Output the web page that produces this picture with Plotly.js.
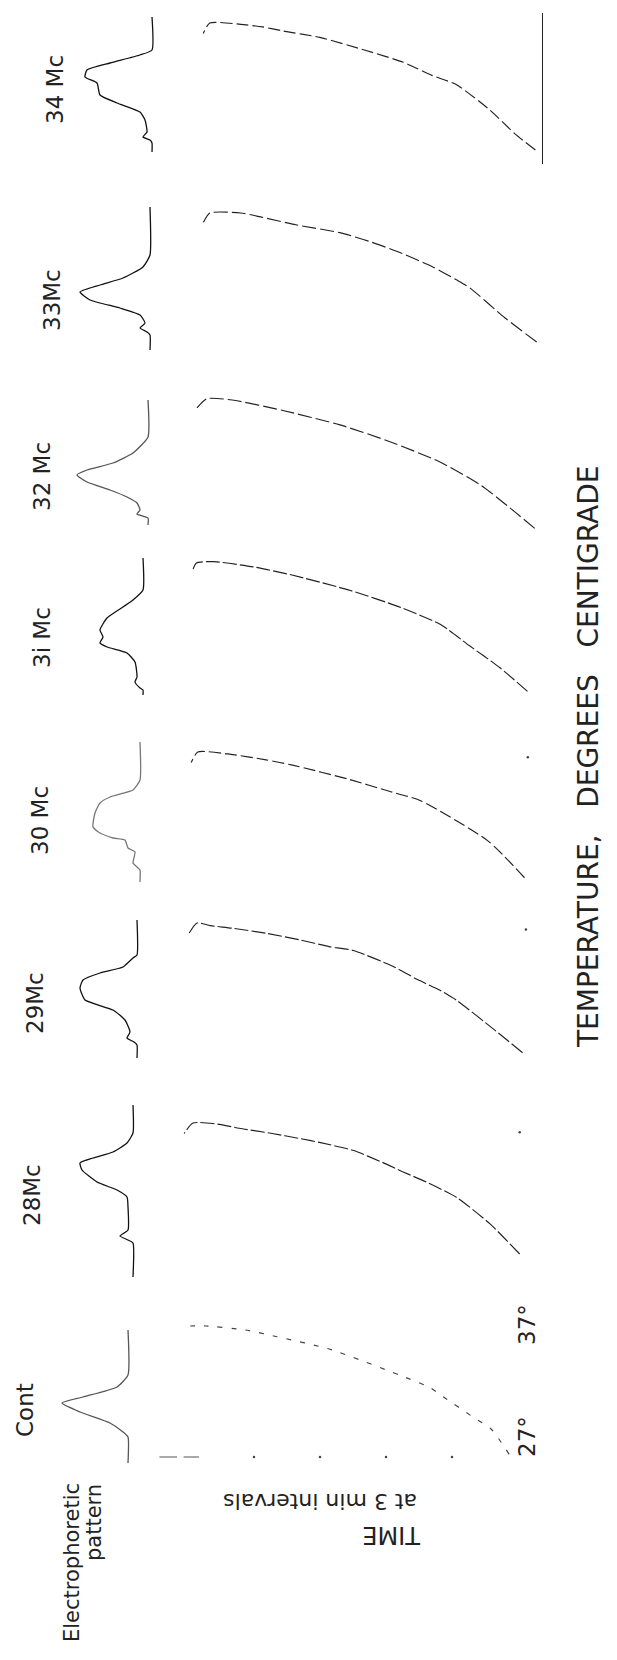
<!DOCTYPE html>
<html>
<head>
<meta charset="utf-8">
<script src="https://cdn.plot.ly/plotly-3.0.1.min.js"></script>
<style>html,body{margin:0;padding:0;background:#fff;}#chart{width:617px;height:1660px;}</style>
</head>
<body>
<div id="chart"></div>
<script>
// ---------- DATA ----------
const panelNames = ["Cont", "28Mc", "29Mc", "30 Mc", "3i Mc", "32 Mc", "33Mc", "34 Mc"];

// heating curves: time (min) vs temperature (°C)
const contTime = [0.4, 1.2, 2.0, 3.4, 4.0, 5.0, 8.5, 11.0, 12.4, 14.2, 14.9];
const contTemp = [27.2, 29.1, 30.0, 31.6, 32.3, 33.0, 35.2, 36.2, 36.7, 37.0, 37.0];
const mc28Time = [0.15, 1.5, 3.0, 4.4, 5.5, 6.4, 7.7, 9.2, 10.1, 11.4, 12.9, 13.8, 15.0, 15.4];
const mc28Temp = [27.0, 29.3, 31.3, 32.5, 33.3, 34.0, 34.9, 35.5, 35.8, 36.2, 36.6, 36.9, 37.0, 36.2];
const mc29Time = [0.2, 1.45, 3.2, 4.0, 5.0, 6.1, 7.9, 9.0, 10.3, 11.8, 13.4, 14.4, 15.0, 15.4];
const mc29Temp = [27.1, 28.8, 31.1, 31.9, 32.7, 33.7, 34.9, 35.2, 35.7, 36.2, 36.6, 36.8, 37.0, 36.1];
const mc30Time = [0.25, 1.9, 5.0, 6.4, 8.2, 10.8, 12.0, 13.5, 15.1, 15.4];
const mc30Temp = [27.4, 30.2, 33.3, 34.0, 34.9, 36.0, 36.4, 36.8, 37.0, 36.2];
const mc31Time = [0.25, 1.5, 2.9, 4.2, 6.0, 8.3, 11.0, 12.7, 14.5, 15.3, 15.5];
const mc31Temp = [27.2, 29.0, 30.7, 32.3, 33.6, 34.9, 36.1, 36.7, 37.1, 37.0, 36.3];
const mc32Time = [0.15, 1.3, 2.6, 4.5, 6.7, 9.0, 11.6, 13.9, 15.05, 15.5];
const mc32Temp = [27.2, 28.8, 30.5, 32.3, 33.8, 35.1, 36.2, 37.0, 37.1, 36.4];
const mc33Time = [0.15, 1.6, 3.2, 3.8, 4.9, 6.4, 7.7, 9.1, 11.1, 12.7, 13.6, 15.0, 15.3];
const mc33Temp = [27.15, 29.0, 31.3, 31.9, 32.9, 34.0, 34.8, 35.5, 36.1, 36.7, 37.0, 37.0, 36.3];
const mc34Time = [0.3, 1.2, 2.4, 3.9, 5.0, 6.3, 8.0, 10.1, 11.8, 12.7, 13.7, 15.1, 15.4];
const mc34Temp = [27.3, 28.5, 30.4, 32.3, 33.0, 34.0, 34.9, 35.9, 36.4, 36.7, 36.9, 37.0, 36.2];

// 3-minute marks on the 27° line of the control
const contTickTimes = [3, 6, 9, 12];
const contTickTemp = [27, 27, 27, 27];
const contDashTimes = [14.5, 15.2, null, 15.5, 16.3];
const contDashTemp = [27, 27, null, 27, 27];
// faint zero-time specks (panels 28, 29, 30 Mc)
const zeroMarkPanels = [1, 2, 3];
const zeroMarkTime = [0.15, 0.05, 0.1];
const zeroMarkTemp = [36.3, 36.5, 36.6];

// electrophoretic patterns: position along baseline vs deflection
const contPatPos = [0, 45, 57, 67, 73, 82, 93, 102, 107, 133];
const contPatHt  = [0, 0, 11, 45, 66, 48, 18, 5, 0, 0];
const mc28PatPos = [0, 28, 38, 47, 53, 58, 65, 77, 85, 92, 102, 125, 131, 135, 138, 172];
const mc28PatHt  = [0, 0, 6, 20, 40, 53, 51, 36, 16, 6, 5, 5, 13, 5, 0, 0];
const mc29PatPos = [0, 35, 38, 47, 53, 60, 68, 80, 90, 100, 112, 118, 122, 125, 138];
const mc29PatHt  = [0, 0, 4, 14, 37, 54, 57, 52, 24, 12, 7, 10, 3, 0, 0];
const mc30PatPos = [0, 38, 48, 55, 61, 71, 85, 91, 96, 98, 106, 110, 121, 125, 128, 140];
const mc30PatHt  = [0, 0, 7, 30, 40, 45, 47, 40, 27, 15, 12, 5, 7, 3, 0, 0];
const mc31PatPos = [0, 32, 42, 49, 60, 72, 79, 85, 89, 95, 104, 119, 124, 130, 132, 137];
const mc31PatHt  = [0, 0, 10, 20, 36, 43, 40, 43, 36, 16, 8, 6, 8, 3, 0, 0];
const mc32PatPos = [0, 37, 53, 63, 70, 75, 82, 90, 97, 103, 110, 114, 118, 125];
const mc32PatHt  = [0, 0, 15, 35, 61, 71, 61, 38, 21, 11, 8, 11, 0, 0];
const mc33PatPos = [0, 48, 60, 71, 78, 85, 93, 101, 108, 116, 121, 125, 128, 143];
const mc33PatHt  = [0, 0, 7, 27, 50, 70, 60, 30, 10, 5, 10, 3, 0, 0];
const mc34PatPos = [0, 33, 38, 46, 53, 60, 66, 78, 86, 95, 103, 115, 120, 123, 126, 135];
const mc34PatHt  = [0, 0, 12, 42, 65, 67, 55, 52, 35, 12, 7, 5, 9, 2, 0, 0];

const curveTimes = [contTime, mc28Time, mc29Time, mc30Time, mc31Time, mc32Time, mc33Time, mc34Time];
const curveTemps = [contTemp, mc28Temp, mc29Temp, mc30Temp, mc31Temp, mc32Temp, mc33Temp, mc34Temp];
const patPos = [contPatPos, mc28PatPos, mc29PatPos, mc30PatPos, mc31PatPos, mc32PatPos, mc33PatPos, mc34PatPos];
const patHt = [contPatHt, mc28PatHt, mc29PatHt, mc30PatHt, mc31PatHt, mc32PatHt, mc33PatHt, mc34PatHt];

// ---------- LAYOUT GEOMETRY (pixels of the page) ----------
const W = 617, H = 1660;
const baseX   = [128, 133, 137, 140, 143, 148, 150, 152];
const patTop  = [1330, 1105, 920, 742, 558, 400, 207, 17];
const patBot  = [1463, 1277, 1058, 882, 695, 525, 350, 152];
const top37   = [1326, 1123, 923, 752, 563, 400, 213, 23];
const zeroX   = [518, 523, 527, 530, 533, 538, 540, 542];
const labelXY = [[25,1410],[32,1195],[35,1003],[40,821],[42,637],[42,476],[52,300],[55,90]];
const pxPerMin = 22, pxPerDeg = 13.1;
const tMax = 16.5, tMin = 0, TLo = 26.2, THi = 37.8;
const patColor = ["#555", "#111", "#111", "#777", "#111", "#555", "#111", "#111"];
const curveDash = ["5px,9px", "14px,3px", "14px,3px", "12px,4px", "14px,3px", "14px,4px", "14px,4px", "12px,4px"];

const fx = x => x / W;
const fy = y => 1 - y / H;
const FONT = "DejaVu Sans, Liberation Sans, sans-serif";
const hidden = {visible: false, showgrid: false, zeroline: false, fixedrange: true};

const data = [];
const layout = {
  width: W, height: H, margin: {l: 0, r: 0, t: 0, b: 0},
  paper_bgcolor: "#fff", plot_bgcolor: "rgba(0,0,0,0)", showlegend: false,
  font: {family: FONT, color: "#1a1a1a"}, annotations: []
};

for (let i = 0; i < 8; i++) {
  const p = i + 1, c = i + 9;
  const L = patBot[i] - patTop[i];
  // pattern subplot
  layout["xaxis" + p] = Object.assign({}, hidden, {domain: [fx(baseX[i] - 110), fx(baseX[i] + 5)], range: [110, -5], anchor: "y" + p});
  layout["yaxis" + p] = Object.assign({}, hidden, {domain: [fy(patBot[i]), fy(patTop[i])], range: [L, 0], anchor: "x" + p});
  data.push({x: patHt[i], y: patPos[i], xaxis: "x" + p, yaxis: "y" + p, type: "scatter", mode: "lines",
    line: {color: patColor[i], width: 1.3, shape: "spline", smoothing: 0.5}, hoverinfo: "skip", cliponaxis: false});
  // curve subplot
  const x0 = zeroX[i], y37 = top37[i];
  layout["xaxis" + c] = Object.assign({}, hidden, {domain: [fx(x0 - tMax * pxPerMin), fx(x0 - tMin * pxPerMin)], range: [tMax, tMin], anchor: "y" + c});
  const yax = Object.assign({}, hidden, {domain: [fy(y37 + (37 - TLo) * pxPerDeg), fy(y37 - (THi - 37) * pxPerDeg)], range: [TLo, THi], anchor: "x" + c});
  if (i === 7) Object.assign(yax, {visible: true, showline: true, side: "right", linecolor: "#222", linewidth: 1.3, showticklabels: false, ticks: ""});
  layout["yaxis" + c] = yax;
  data.push({x: curveTimes[i], y: curveTemps[i], xaxis: "x" + c, yaxis: "y" + c, type: "scatter", mode: "lines",
    line: {color: i === 0 ? "#444" : "#222", width: 1.15, shape: "spline", smoothing: 0.6, dash: curveDash[i]}, hoverinfo: "skip", cliponaxis: false});
  // sample label
  layout.annotations.push({xref: "paper", yref: "paper", x: fx(labelXY[i][0]), y: fy(labelXY[i][1]), text: panelNames[i],
    textangle: -90, showarrow: false, xanchor: "center", yanchor: "middle", font: {size: 23, family: FONT, color: "#222"}});
}
// control 27° line with 3-min marks
data.push({x: contTickTimes, y: contTickTemp, xaxis: "x9", yaxis: "y9", type: "scatter", mode: "markers",
  marker: {size: 2.5, color: "#444"}, hoverinfo: "skip", cliponaxis: false});
data.push({x: contDashTimes, y: contDashTemp, xaxis: "x9", yaxis: "y9", type: "scatter", mode: "lines",
  line: {color: "#555", width: 1}, hoverinfo: "skip", cliponaxis: false});
zeroMarkPanels.forEach((pi, k) => {
  data.push({x: [zeroMarkTime[k]], y: [zeroMarkTemp[k]], xaxis: "x" + (pi + 9), yaxis: "y" + (pi + 9), type: "scatter", mode: "markers",
    marker: {size: 2.5, color: "#444"}, hoverinfo: "skip", cliponaxis: false});
});

const ann = (x, y, text, size, angle, extra) => Object.assign({xref: "paper", yref: "paper", x: fx(x), y: fy(y), text: text,
  textangle: angle, showarrow: false, xanchor: "center", yanchor: "middle", font: {size: size, family: FONT, color: "#222"}}, extra || {});
layout.annotations.push(ann(527, 1325, "37°", 23, -90));
layout.annotations.push(ann(527, 1437, "27°", 23, -90));
layout.annotations.push(ann(72, 1563, "Electrophoretic", 21, -90));
layout.annotations.push(ann(94, 1523, "pattern", 21, -90));
layout.annotations.push(ann(320, 1502, "at 3 min intervals", 22, 180));
layout.annotations.push(ann(392, 1535, "TIME", 24, 180));
layout.annotations.push(ann(588, 757, "TEMPERATURE,&nbsp;&nbsp; DEGREES&nbsp;&nbsp; CENTIGRADE", 28, -90));

Plotly.newPlot("chart", data, layout, {staticPlot: true, displayModeBar: false});
</script>
</body>
</html>
